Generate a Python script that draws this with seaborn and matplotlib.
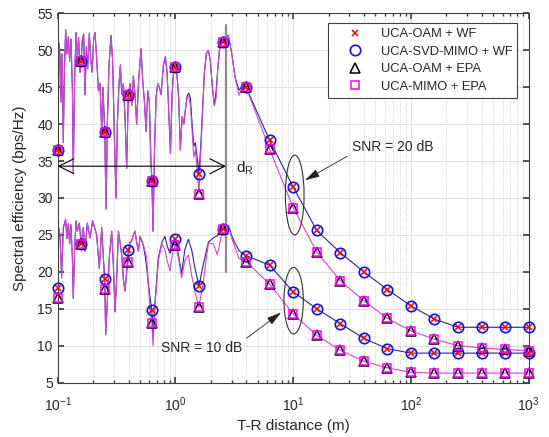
import numpy as np
import pandas as pd
import seaborn as sns
import matplotlib
matplotlib.use('Agg')
import matplotlib.pyplot as plt
from matplotlib.patches import Ellipse

# marker positions (T-R distance, m)
dist = [0.1, 0.158, 0.251, 0.398, 0.631, 1.0, 1.585, 2.512, 3.981, 6.31, 10,
        15.85, 25.12, 39.81, 63.1, 100, 158.5, 251.2, 398.1, 631, 1000]

# spectral efficiency at the markers (bps/Hz)
wf_20 = [36.5, 48.6, 38.9, 43.9, 32.3, 47.7, 33.3, 51.1, 45.0, 37.8, 31.5,
         25.6, 22.6, 20.0, 17.6, 15.4, 13.6, 12.5, 12.5, 12.5, 12.5]
epa_20 = [36.5, 48.6, 38.9, 43.9, 32.3, 47.7, 30.6, 51.1, 45.0, 36.6, 28.7,
          22.7, 18.8, 16.1, 13.7, 12.0, 10.9, 10.0, 9.7, 9.5, 9.3]
wf_10 = [17.8, 23.8, 19.1, 22.9, 14.8, 24.5, 18.1, 25.75, 22.2, 20.9, 17.3,
         15.0, 13.0, 11.0, 9.6, 9.0, 9.0, 9.0, 9.0, 9.0, 9.0]
epa_10 = [16.4, 23.8, 17.7, 21.4, 13.1, 23.7, 15.2, 25.75, 21.4, 18.35, 14.3,
          11.4, 9.4, 7.9, 7.0, 6.4, 6.3, 6.3, 6.3, 6.3, 6.3]

# dense simulated curves in the near field (log10 of distance)
logd_20 = [-1.000, -0.992, -0.986, -0.977, -0.972, -0.963, -0.952, -0.943, -0.932, -0.921,
           -0.909, -0.898, -0.887, -0.875, -0.867, -0.856, -0.844, -0.833, -0.822, -0.810,
           -0.800, -0.790, -0.779, -0.768, -0.756, -0.745, -0.731, -0.720, -0.708, -0.694,
           -0.683, -0.669, -0.654, -0.640, -0.626, -0.615, -0.600, -0.589, -0.578, -0.564,
           -0.547, -0.533, -0.518, -0.504, -0.493, -0.479, -0.467, -0.456, -0.442, -0.428,
           -0.414, -0.400, -0.385, -0.371, -0.357, -0.343, -0.329, -0.312, -0.292, -0.278,
           -0.263, -0.249, -0.235, -0.221, -0.210, -0.200, -0.190, -0.178, -0.164, -0.150,
           -0.136, -0.122, -0.102, -0.085, -0.071, -0.057, -0.042, -0.028, -0.014, 0.000,
           0.014, 0.028, 0.042, 0.057, 0.071, 0.085, 0.099, 0.113, 0.127, 0.142,
           0.156, 0.170, 0.184, 0.200, 0.215, 0.229, 0.246, 0.263, 0.280, 0.297,
           0.314, 0.331, 0.346, 0.360, 0.374, 0.388, 0.400, 0.416, 0.436, 0.449,
           0.478, 0.506, 0.540, 0.563, 0.600]
wf_20_dense = [36.5, 45.0, 50.9, 48.0, 43.0, 49.5, 37.5, 47.0, 52.8, 49.5,
               51.8, 48.5, 51.5, 45.0, 33.3, 46.0, 52.4, 49.0, 51.7, 47.0,
               48.6, 51.5, 52.2, 44.0, 50.5, 47.5, 52.3, 49.0, 47.0, 51.5,
               52.4, 49.0, 44.5, 45.5, 39.0, 45.0, 38.9, 28.5, 40.0, 48.0,
               52.0, 48.5, 38.0, 30.0, 40.0, 45.5, 48.0, 44.0, 45.5, 41.0,
               34.0, 43.9, 45.5, 42.5, 46.5, 44.0, 40.0, 46.0, 50.2, 46.0,
               43.0, 39.0, 44.5, 43.0, 36.0, 32.3, 25.5, 36.0, 43.7, 45.5,
               45.0, 44.0, 48.0, 49.1, 47.0, 42.0, 36.0, 44.0, 47.5, 47.7,
               46.5, 43.5, 36.5, 41.0, 40.0, 42.0, 43.8, 44.2, 43.5, 40.0,
               37.0, 37.5, 35.5, 33.3, 37.0, 41.5, 47.0, 49.6, 50.0, 48.5,
               45.0, 42.5, 44.5, 47.5, 50.0, 50.8, 51.1, 51.6, 51.9, 52.0,
               49.6, 46.4, 44.6, 45.0, 45.0]
epa_20_dense = [36.5, 45.0, 50.9, 48.0, 43.0, 49.5, 37.5, 47.0, 52.8, 49.5,
                51.8, 48.5, 51.5, 45.0, 33.3, 46.0, 52.4, 49.0, 51.7, 47.0,
                48.6, 51.5, 52.2, 44.0, 50.5, 47.5, 52.3, 49.0, 47.0, 51.5,
                52.4, 49.0, 44.5, 45.5, 39.0, 45.0, 38.9, 28.5, 40.0, 48.0,
                52.0, 48.5, 38.0, 30.0, 40.0, 45.5, 48.0, 44.0, 45.5, 41.0,
                34.0, 43.9, 45.5, 42.5, 46.5, 44.0, 40.0, 46.0, 50.2, 46.0,
                43.0, 39.0, 44.5, 43.0, 36.0, 32.3, 25.5, 36.0, 43.7, 45.5,
                45.0, 44.0, 48.0, 49.1, 47.0, 42.0, 36.0, 44.0, 47.5, 47.7,
                46.5, 43.5, 36.5, 41.0, 40.0, 42.0, 43.5, 43.8, 42.5, 39.0,
                35.5, 36.5, 34.0, 30.6, 36.0, 41.0, 47.0, 49.6, 50.0, 48.5,
                45.0, 42.5, 43.5, 47.5, 50.0, 50.8, 51.1, 51.6, 51.9, 52.0,
                49.6, 46.4, 43.9, 44.7, 45.0]

logd_10 = [-1.000, -0.992, -0.980, -0.966, -0.952, -0.932, -0.921, -0.909, -0.898, -0.887,
           -0.875, -0.867, -0.856, -0.844, -0.833, -0.816, -0.800, -0.782, -0.768, -0.748,
           -0.725, -0.703, -0.686, -0.669, -0.646, -0.626, -0.612, -0.600, -0.592, -0.578,
           -0.561, -0.541, -0.527, -0.513, -0.499, -0.484, -0.470, -0.456, -0.442, -0.428,
           -0.414, -0.400, -0.385, -0.371, -0.357, -0.343, -0.329, -0.314, -0.300, -0.272,
           -0.258, -0.244, -0.229, -0.215, -0.200, -0.190, -0.173, -0.145, -0.115, -0.089,
           -0.070, -0.046, -0.025, 0.000, 0.025, 0.053, 0.080, 0.110, 0.138, 0.166,
           0.200, 0.237, 0.280, 0.322, 0.356, 0.379, 0.400, 0.449, 0.478, 0.506,
           0.540, 0.563, 0.600]
wf_10_dense = [17.8, 26.0, 25.0, 19.2, 26.0, 27.1, 24.5, 26.5, 23.8, 26.4,
               22.0, 16.4, 23.0, 26.9, 25.5, 26.6, 23.8, 26.0, 22.8, 26.6,
               24.6, 26.9, 26.0, 25.0, 20.5, 26.0, 22.0, 19.1, 11.5, 16.0,
               22.0, 25.5, 21.0, 14.6, 19.0, 25.5, 24.0, 22.3, 19.0, 17.4,
               20.0, 22.9, 24.0, 24.2, 25.0, 25.5, 24.0, 22.8, 24.8, 23.5,
               22.3, 20.5, 18.3, 16.5, 14.8, 11.0, 16.0, 21.9, 24.0, 24.8,
               23.5, 22.5, 23.5, 24.5, 22.3, 19.8, 23.0, 24.4, 23.0, 20.5,
               18.1, 21.0, 24.0, 24.6, 24.9, 25.3, 25.75, 26.3, 24.9, 23.9,
               22.9, 22.5, 22.2]
epa_10_dense = [16.4, 26.0, 25.0, 19.2, 26.0, 27.1, 24.5, 26.5, 23.8, 26.4,
                22.0, 16.4, 23.0, 26.9, 25.5, 26.6, 23.8, 26.0, 22.8, 26.6,
                24.6, 26.9, 26.0, 25.0, 20.5, 26.0, 22.0, 17.7, 11.5, 16.0,
                22.0, 25.5, 21.0, 14.6, 19.0, 25.5, 24.0, 22.3, 19.0, 17.4,
                20.0, 21.4, 24.0, 24.2, 25.0, 25.5, 24.0, 22.8, 24.8, 23.7,
                22.8, 22.0, 18.0, 15.0, 13.1, 10.0, 15.5, 21.5, 23.8, 23.0,
                21.5, 20.1, 22.5, 23.7, 22.0, 19.2, 21.5, 22.3, 19.5, 17.3,
                15.2, 18.7, 23.9, 23.8, 22.3, 24.0, 25.75, 26.3, 24.6, 23.3,
                21.8, 21.6, 21.4]

d_R = 2.69

sns.set_theme(style='ticks')
plt.rcParams['font.family'] = ['Liberation Sans', 'DejaVu Sans']
plt.rcParams['mathtext.fontset'] = 'custom'
plt.rcParams['mathtext.rm'] = 'Liberation Sans'
plt.rcParams['mathtext.it'] = 'Liberation Sans:italic'

fig, ax = plt.subplots(figsize=(5.49, 4.37), dpi=100)
fig.subplots_adjust(left=0.105, right=0.963, top=0.9696, bottom=0.1243)
ax.set_xscale('log')

blue_line = '#25259c'
mag_line = '#d545d5'


def full_curve(logd, dense, marks):
    # near-field trace followed by the smooth far-field part through the markers
    x = list(10 ** np.array(logd)) + dist[9:]
    y = list(dense) + marks[9:]
    return pd.DataFrame({'d': x, 'se': y})


for logd, dense, marks, col in [(logd_20, wf_20_dense, wf_20, blue_line),
                                (logd_10, wf_10_dense, wf_10, blue_line),
                                (logd_20, epa_20_dense, epa_20, mag_line),
                                (logd_10, epa_10_dense, epa_10, mag_line)]:
    df = full_curve(logd, dense, marks)
    sns.lineplot(data=df, x='d', y='se', ax=ax, color=col, lw=0.8,
                 estimator=None, sort=False, legend=False)

xs = dist + dist
ax.plot(xs, wf_20 + wf_10, ls='none', marker='x', color='#ff0000', ms=5, mew=1.1,
        clip_on=False, label='UCA-OAM + WF', zorder=4)
ax.plot(xs, wf_20 + wf_10, ls='none', marker='o', mfc='none', mec='#1010e0', ms=7.5, mew=1.2,
        clip_on=False, label='UCA-SVD-MIMO + WF', zorder=4)
ax.plot(xs, epa_20 + epa_10, ls='none', marker='^', mfc='none', mec='black', ms=7, mew=1.1,
        clip_on=False, label='UCA-OAM + EPA', zorder=4)
ax.plot(xs, epa_20 + epa_10, ls='none', marker='s', mfc='none', mec='#ff00ff', ms=5.5, mew=1.1,
        clip_on=False, label='UCA-MIMO + EPA', zorder=4)

# d_R boundary
ax.plot([d_R, d_R], [20, 53.4], color='#8c8c8c', lw=1.6, zorder=3)
ax.annotate('', xy=(0.1, 34.3), xytext=(d_R, 34.3),
            arrowprops=dict(arrowstyle='<->,head_length=0.9,head_width=0.45',
                            color='black', lw=0.8, shrinkA=0, shrinkB=0))
ax.text(3.3, 33.4, r'd$_{\mathrm{R}}$', fontsize=11, ha='left', va='baseline')

# ellipses around the SNR groups
ax.add_patch(Ellipse((0.5033, 0.508), 0.0397, 0.216, transform=ax.transAxes,
                     fill=False, ec='#333333', lw=0.8, zorder=5))
ax.add_patch(Ellipse((0.501, 0.222), 0.041, 0.18, transform=ax.transAxes,
                     fill=False, ec='#333333', lw=0.8, zorder=5))

ax.annotate('SNR = 20 dB', xy=(12.6, 32.4), xytext=(31.5, 36.95), fontsize=10,
            ha='left', va='center',
            arrowprops=dict(arrowstyle='-|>,head_length=0.9,head_width=0.25',
                            color='#222222', lw=0.6, shrinkA=1, shrinkB=0, relpos=(0, 0)))
ax.annotate('SNR = 10 dB', xy=(7.9, 14.5), xytext=(0.755, 9.64), fontsize=10,
            ha='left', va='center',
            arrowprops=dict(arrowstyle='-|>,head_length=0.9,head_width=0.25',
                            color='#222222', lw=0.6, shrinkA=1, shrinkB=0, relpos=(1, 1)))

ax.set_xlim(0.1, 1000)
ax.set_ylim(5, 55)
ax.set_yticks(range(5, 56, 5))
ax.set_xlabel('T-R distance (m)', fontsize=11, labelpad=4)
ax.set_ylabel('Spectral efficiency (bps/Hz)', fontsize=11, labelpad=7)

ax.grid(True, which='major', color='#e0e0e0', lw=0.7, ls='-')
ax.grid(True, which='minor', axis='x', color='#c4c4c4', lw=0.6, ls=':')
ax.set_axisbelow(True)
ax.tick_params(which='both', direction='in', top=True, right=True, labelsize=10,
               color='#404040')
ax.tick_params(which='major', length=4)
ax.tick_params(which='minor', length=2)
ax.tick_params(axis='x', which='major', pad=9)
for sp in ax.spines.values():
    sp.set_color('#404040')
    sp.set_linewidth(0.8)

leg = ax.legend(loc='upper right', bbox_to_anchor=(0.976, 0.973), borderaxespad=0,
                fontsize=9.3, numpoints=1, handlelength=3.4, handletextpad=0.25,
                labelspacing=0.42, fancybox=False, framealpha=1, edgecolor='#404040')
leg.get_frame().set_linewidth(0.8)

fig.savefig('out.png', dpi=100)
